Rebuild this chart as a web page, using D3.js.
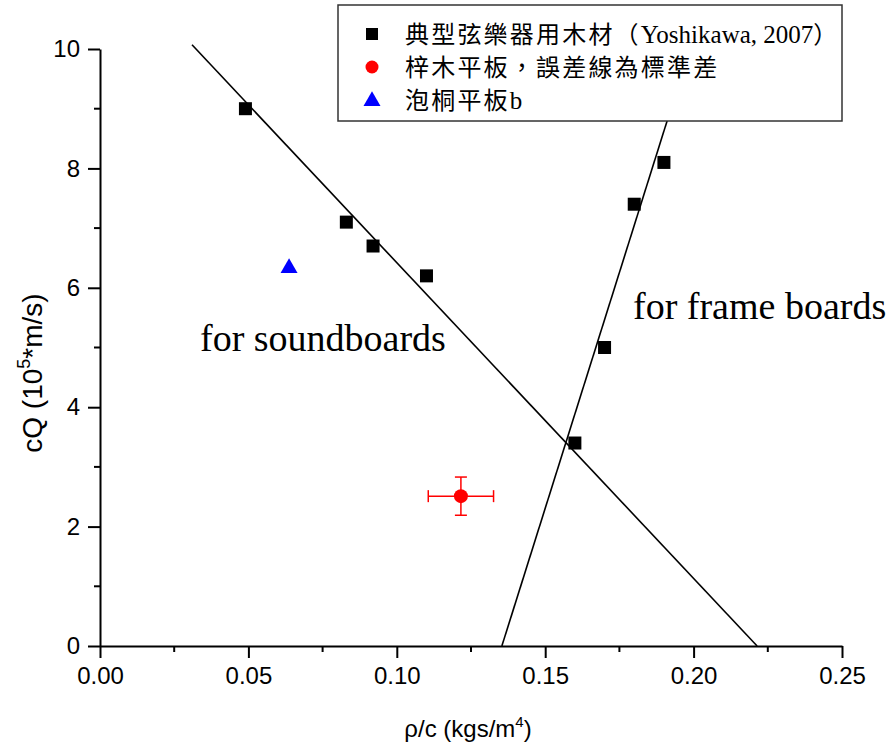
<!DOCTYPE html>
<html><head><meta charset="utf-8">
<script src="https://cdn.jsdelivr.net/npm/d3@7"></script>
<style>body{margin:0;background:#fff}svg{display:block}</style>
</head><body>
<svg id="c" width="893" height="744"></svg>
<script>
// ---- data ----
const yoshikawaX = [0.049, 0.083, 0.092, 0.110, 0.160, 0.170, 0.180, 0.190];
const yoshikawaY = [9.0, 7.1, 6.7, 6.2, 3.4, 5.0, 7.4, 8.1];
const catalpaX = [0.1216];
const catalpaY = [2.51];
const catalpaErrX = [0.011];
const catalpaErrY = [0.32];
const paulowniaX = [0.0637];
const paulowniaY = [6.33];
const soundLine = [[0.031, 10.07], [0.2214, 0]];
const frameLine = [[0.1354, 0], [0.1987, 10.0]];
const xTicks = [0, 0.05, 0.10, 0.15, 0.20, 0.25];
const xMinor = [0.025, 0.075, 0.125, 0.175, 0.225];
const yTicks = [0, 2, 4, 6, 8, 10];
const yMinor = [1, 3, 5, 7, 9];
// legend labels split into [text, isCJK] runs
const legendLabels = [
  [["典型弦樂器用木材（", true], ["Yoshikawa, 2007", false], ["）", true]],
  [["梓木平板，誤差線為標準差", true]],
  [["泡桐平板", true], ["b", false]]
];

const svg = d3.select("#c");
const x = d3.scaleLinear().domain([0, 0.25]).range([100, 842]);
const y = d3.scaleLinear().domain([0, 10]).range([646, 49]);
const sansF = "'Liberation Sans', Arial, sans-serif";
const serifF = "'Liberation Serif', 'Times New Roman', 'Noto Sans CJK TC', serif";

// fit lines
const line = d3.line().x(d => x(d[0])).y(d => y(d[1]));
[soundLine, frameLine].forEach(l => svg.append("path").attr("d", line(l))
  .attr("fill", "none").attr("stroke", "#000").attr("stroke-width", 1.6));

// axes
const xAxis = svg.append("g").attr("transform", "translate(0,646)")
  .call(d3.axisBottom(x).tickValues(xTicks).tickFormat(d3.format(".2f")).tickSizeInner(12).tickSizeOuter(0).tickPadding(9));
const yAxis = svg.append("g").attr("transform", "translate(100,0)")
  .call(d3.axisLeft(y).tickValues(yTicks).tickFormat(d3.format("d")).tickSizeInner(12).tickSizeOuter(0).tickPadding(8));
[xAxis, yAxis].forEach(a => {
  a.select(".domain").attr("stroke-width", 2);
  a.selectAll(".tick line").attr("stroke-width", 2);
  a.selectAll("text").attr("font-family", sansF).attr("font-size", 24).attr("fill", "#000");
});
xAxis.selectAll(".minor").data(xMinor).enter().append("line")
  .attr("x1", d => x(d)).attr("x2", d => x(d)).attr("y1", 0).attr("y2", 6)
  .attr("stroke", "#000").attr("stroke-width", 2);
yAxis.selectAll(".minor").data(yMinor).enter().append("line")
  .attr("y1", d => y(d)).attr("y2", d => y(d)).attr("x1", 0).attr("x2", -6)
  .attr("stroke", "#000").attr("stroke-width", 2);

// axis titles
const xt = svg.append("text").attr("x", 468).attr("y", 737).attr("text-anchor", "middle")
  .attr("font-family", sansF).attr("font-size", 24);
xt.append("tspan").text("ρ/c (kgs/m");
xt.append("tspan").attr("dy", -10).attr("font-size", 15).text("4");
xt.append("tspan").attr("dy", 10).text(")");
const yt = svg.append("text").attr("transform", "translate(42,373) rotate(-90)").attr("text-anchor", "middle")
  .attr("font-family", sansF).attr("font-size", 28);
yt.append("tspan").text("cQ (10");
yt.append("tspan").attr("dy", -12).attr("font-size", 18).text("5");
yt.append("tspan").attr("dy", 12).text("*m/s)");

// annotations
svg.append("text").attr("x", 200).attr("y", 351).attr("font-family", serifF).attr("font-size", 38).text("for soundboards");
svg.append("text").attr("x", 633).attr("y", 319).attr("font-family", serifF).attr("font-size", 38).text("for frame boards");

// Yoshikawa squares
const sq = 13;
svg.selectAll(".sq").data(yoshikawaX.map((v, i) => [v, yoshikawaY[i]])).enter().append("rect")
  .attr("x", d => x(d[0]) - sq / 2).attr("y", d => y(d[1]) - sq / 2).attr("width", sq).attr("height", sq).attr("fill", "#000");

// catalpa with error bars
const cat = catalpaX.map((v, i) => ({x: v, y: catalpaY[i], ex: catalpaErrX[i], ey: catalpaErrY[i]}));
const eg = svg.selectAll(".cat").data(cat).enter().append("g").attr("stroke", "#f00").attr("stroke-width", 1.5);
eg.append("line").attr("x1", d => x(d.x - d.ex)).attr("x2", d => x(d.x + d.ex)).attr("y1", d => y(d.y)).attr("y2", d => y(d.y));
eg.append("line").attr("y1", d => y(d.y - d.ey)).attr("y2", d => y(d.y + d.ey)).attr("x1", d => x(d.x)).attr("x2", d => x(d.x));
eg.append("line").attr("x1", d => x(d.x - d.ex)).attr("x2", d => x(d.x - d.ex)).attr("y1", d => y(d.y) - 6).attr("y2", d => y(d.y) + 6);
eg.append("line").attr("x1", d => x(d.x + d.ex)).attr("x2", d => x(d.x + d.ex)).attr("y1", d => y(d.y) - 6).attr("y2", d => y(d.y) + 6);
eg.append("line").attr("y1", d => y(d.y - d.ey)).attr("y2", d => y(d.y - d.ey)).attr("x1", d => x(d.x) - 6).attr("x2", d => x(d.x) + 6);
eg.append("line").attr("y1", d => y(d.y + d.ey)).attr("y2", d => y(d.y + d.ey)).attr("x1", d => x(d.x) - 6).attr("x2", d => x(d.x) + 6);
svg.selectAll(".catc").data(cat).enter().append("circle")
  .attr("cx", d => x(d.x)).attr("cy", d => y(d.y)).attr("r", 7).attr("fill", "#f00");

// paulownia triangle
const tri = d3.symbol().type(d3.symbolTriangle).size(125);
svg.selectAll(".tri").data(paulowniaX.map((v, i) => [v, paulowniaY[i]])).enter().append("path")
  .attr("d", tri).attr("transform", d => `translate(${x(d[0])},${y(d[1])})`).attr("fill", "#00f");

// legend
const lg = svg.append("g");
lg.append("rect").attr("x", 338).attr("y", 5).attr("width", 504).attr("height", 116)
  .attr("fill", "#fff").attr("stroke", "#333").attr("stroke-width", 1.5);
const rowY = [34, 67, 100];
lg.append("rect").attr("x", 366).attr("y", rowY[0] - 6).attr("width", 12).attr("height", 12).attr("fill", "#000");
lg.append("circle").attr("cx", 372).attr("cy", rowY[1]).attr("r", 6.5).attr("fill", "#f00");
lg.append("path").attr("d", tri).attr("transform", `translate(372,${rowY[2] + 1})`).attr("fill", "#00f");
const lt = lg.selectAll(".lt").data(legendLabels).enter().append("text")
  .attr("x", 405).attr("y", (d, i) => rowY[i] + 9)
  .attr("font-family", serifF).attr("font-size", 24);
lt.selectAll("tspan").data(d => d).enter().append("tspan")
  .attr("letter-spacing", d => d[1] ? 2.2 : 0)
  .attr("font-size", d => d[1] ? 24 : 25)
  .text(d => d[0]);
</script>
</body></html>
